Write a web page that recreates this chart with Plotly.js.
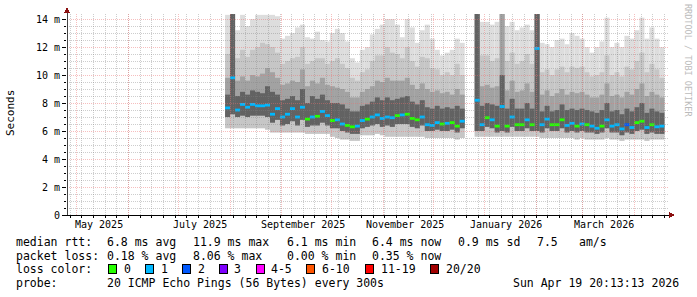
<!DOCTYPE html>
<html><head><meta charset="utf-8">
<script src="https://cdn.plot.ly/plotly-3.0.1.min.js"></script>
<style>html,body{margin:0;padding:0;background:#fff;}#chart{width:697px;height:297px;}
.shapelayer path{shape-rendering:crispEdges !important;}</style>
</head><body><div id="chart"></div>
<script>
// ---------- data (3-day bins starting 2025-07-29) ----------
const binStart = '2025-07-29';
const binDays = 3;
const medianRtt = [7.65,9.8,7.5,7.9,7.7,7.9,7.8,7.8,7.85,7.2,
 7.6,7.0,7.2,7.6,7.0,7.7,6.85,7.0,7.05,7.4,
 7.1,6.75,6.8,6.5,6.4,6.3,6.35,6.75,6.85,7.0,
 7.15,6.9,7.0,6.95,7.1,7.15,7.2,6.9,6.8,7.0,
 6.45,6.4,6.6,6.5,6.55,6.6,6.35,6.7,null,null,
 8.2,6.45,6.95,6.8,6.35,7.75,6.35,7.0,6.45,6.45,
 6.8,6.45,11.9,6.45,6.85,6.45,6.45,6.8,6.4,6.55,
 6.35,6.5,6.45,6.35,6.2,6.35,6.8,6.35,6.45,6.15,
 6.45,6.25,6.6,6.7,6.25,6.45,6.3,6.35];
const lossCount = [1,1,1,1,1,1,1,1,1,1,
 1,1,1,1,1,1,0,1,0,1,
 1,0,1,1,0,0,1,1,0,1,
 1,1,1,1,0,1,0,0,0,1,
 1,1,1,0,1,0,0,1,null,null,
 1,1,0,1,0,1,0,1,0,0,
 1,0,1,1,1,0,0,0,1,1,
 0,1,0,1,1,0,1,1,1,1,
 2,1,0,0,1,0,1,1];
const smokeMin = [6.2,6.2,6.2,6.2,6.2,6.2,6.2,6.2,6.1,5.9,
 5.9,5.9,5.9,5.9,5.9,5.9,5.8,5.8,5.8,5.8,
 5.8,5.6,5.5,5.4,5.4,5.3,5.3,5.7,5.7,5.7,
 5.8,5.7,5.6,5.6,5.6,5.6,5.6,5.6,5.6,5.6,
 5.5,5.5,5.5,5.5,5.5,5.5,5.4,5.5,null,null,
 5.6,5.6,5.6,5.6,5.6,5.6,5.6,5.6,5.6,5.6,
 5.6,5.6,5.6,5.5,5.5,5.5,5.5,5.5,5.5,5.5,
 5.4,5.5,5.4,5.4,5.4,5.4,5.5,5.4,5.4,5.3,
 5.4,5.4,5.4,5.4,5.3,5.4,5.4,5.4];
const smokeLowMid = [7.0,7.2,7.0,7.1,7.0,7.1,7.1,7.1,7.0,6.6,
 6.8,6.4,6.5,6.7,6.4,6.8,6.3,6.4,6.4,6.6,
 6.4,6.2,6.2,6.0,5.9,5.8,5.8,6.2,6.3,6.4,
 6.5,6.3,6.4,6.3,6.5,6.5,6.5,6.3,6.2,6.4,
 6.0,6.0,6.1,6.0,6.0,6.1,5.9,6.2,null,null,
 6.0,6.0,6.3,6.2,5.9,6.0,5.9,6.3,6.0,6.0,
 6.2,6.0,6.0,5.9,6.2,6.0,6.0,6.2,5.9,6.0,
 5.9,6.0,5.9,5.9,5.8,5.9,6.2,5.9,5.9,5.7,
 5.9,5.8,6.0,6.1,5.8,5.9,5.8,5.8];
const smokeH1 = [8.6,14.4,8.5,8.8,8.6,8.9,8.8,8.7,9.2,8.8,
 8.6,8.2,8.3,8.5,8.2,9.0,8.0,8.5,8.3,8.6,
 8.2,8.0,8.0,7.9,7.6,7.4,7.4,7.8,7.9,8.1,
 8.4,8.2,8.4,8.2,8.3,8.4,8.5,8.1,7.9,8.2,
 7.7,7.6,7.8,7.6,7.7,7.6,7.8,7.6,null,null,
 14.4,7.8,8.0,7.9,7.8,10.0,7.6,8.3,7.6,7.6,
 8.0,7.6,14.4,7.4,7.8,7.4,7.5,7.9,7.5,7.6,
 7.5,7.6,7.5,7.4,7.3,7.5,8.0,7.4,7.5,7.2,
 7.6,7.4,7.7,8.0,7.3,7.6,7.4,7.3];
const smokeH2 = [9.8,14.4,9.6,9.9,9.6,10.0,9.9,10.1,10.5,10.2,
 9.8,9.3,9.4,9.6,9.5,10.4,9.2,9.6,9.4,9.8,
 9.3,9.2,9.1,9.0,8.8,8.4,8.4,8.8,9.0,9.2,
 9.6,9.5,9.8,9.6,9.6,9.6,9.8,9.3,9.0,9.4,
 9.0,8.8,8.9,8.7,8.8,8.6,9.0,8.6,null,null,
 14.4,9.2,9.3,9.1,9.2,14.4,8.9,9.6,8.8,8.9,
 9.4,8.8,14.4,8.6,8.9,8.5,8.7,9.0,8.6,8.8,
 8.7,8.8,8.6,8.4,8.4,8.6,9.4,8.5,8.6,8.4,
 8.8,8.6,9.0,9.4,8.5,8.8,8.6,8.4];
const smokeH3 = [11.5,14.4,11.2,11.8,11.3,11.8,12.0,12.3,12.2,12.0,
 11.6,10.8,11.0,11.2,11.3,12.0,10.8,11.0,11.2,11.2,
 10.8,11.0,11.2,10.8,10.5,9.8,9.6,10.2,10.4,11.0,
 11.4,11.4,12.0,11.6,11.5,11.2,12.0,11.0,10.6,11.3,
 11.2,10.5,10.4,10.0,10.2,10.0,10.8,10.0,null,null,
 14.4,11.4,11.4,11.0,11.2,14.4,11.0,11.6,10.8,11.0,
 11.5,10.8,14.4,10.2,10.4,10.0,10.4,10.6,10.2,10.6,
 10.5,10.6,10.2,9.9,10.0,10.2,11.4,10.0,10.2,9.9,
 10.6,10.4,11.0,11.6,10.2,10.8,10.4,9.8];
const smokeMax = [14.3,14.4,13.2,14.3,13.5,14.0,14.3,14.3,14.3,14.3,
 14.2,12.6,12.8,13.0,13.4,13.6,12.7,12.6,13.1,12.5,
 12.4,13.0,13.3,13.0,12.4,11.2,10.9,11.8,12.0,12.9,
 13.3,13.6,14.0,14.0,13.6,12.7,14.0,13.4,12.3,13.2,
 13.6,12.6,11.8,11.4,11.6,11.8,12.6,12.3,null,null,
 14.4,13.8,13.8,13.6,13.8,14.4,13.5,13.8,13.2,13.4,
 13.6,13.2,14.4,12.3,12.2,12.0,12.5,12.6,12.2,13.0,
 12.8,12.6,12.0,11.6,12.0,12.4,14.1,12.0,12.3,12.0,
 12.8,12.6,13.2,14.1,12.6,13.4,12.6,12.0];

const lossLabels = ['0','1','2','3','4-5','6-10','11-19','20/20'];
const lossColors = ['#26ff00','#00b8ff','#0059ff','#7e00ff','#ff00ff','#ff5500','#ff0000','#a10000'];
const xTickDates = ['2025-05-14','2025-07-14','2025-09-14','2025-11-14','2026-01-14','2026-03-14'];
const xTickLabels = ['May 2025','July 2025','September 2025','November 2025','January 2026','March 2026'];
const yTickVals = [0,2,4,6,8,10,12,14];
const yTickText = ['0','2 m','4 m','6 m','8 m','10 m','12 m','14 m'];
const rttStats = ['median rtt:','6.8 ms avg','11.9 ms max','6.1 ms min','6.4 ms now','0.9 ms sd','7.5','am/s'];
const lossStats = ['packet loss:','0.18 % avg','8.06 % max','0.00 % min','0.35 % now'];
const probeText = ['probe:','20 ICMP Echo Pings (56 Bytes) every 300s','Sun Apr 19 20:13:13 2026'];

// ---------- helpers ----------
const DAY = 86400000;
const toStr = ms => new Date(ms).toISOString().slice(0,19).replace('T',' ');
const t0 = Date.parse(binStart + 'T00:00:00Z');
const centers = medianRtt.map((_, i) => toStr(t0 + (i*binDays + binDays/2)*DAY));
const binMs = binDays*DAY;
function band(lower, upper, color){
  return {type:'bar', x:centers, base:lower,
    y: upper.map((u,i)=> (u==null||lower[i]==null)?null:u-lower[i]),
    width:binMs, marker:{color:color, line:{width:0}}, hoverinfo:'skip', showlegend:false};
}
function lossIdx(n){ if(n==null) return 0; if(n<=3) return n; if(n<=5) return 4; if(n<=10) return 5; if(n<20) return 6; return 7; }

const traces = [
  band(smokeMin, smokeMax, '#dddddd'),
  band(smokeMin, smokeH3, '#c6c6c6'),
  band(smokeLowMid, smokeH2, '#a2a2a2'),
  band(smokeLowMid, smokeH1, '#626262'),
  {type:'bar', x:centers, base:medianRtt.map(v=>v==null?null:v-0.1), y:medianRtt.map(v=>v==null?null:0.2),
   width:binMs, marker:{color:lossCount.map(n=>lossColors[lossIdx(n)]), line:{width:0}}, hoverinfo:'skip', showlegend:false}
];

// pixel -> paper
const PL=67, PR=669, PT=14, PB=215;
const px = x => (x-PL)/(PR-PL);
const py = y => (PB-y)/(PB-PT);

const xRange = ['2025-04-25 00:00:00','2026-04-21 18:30:00'];
const shapes = [];
const redGrid = 'rgba(235,110,110,0.45)', grayGrid = 'rgba(130,130,130,0.4)';
// weekly grid
for(let t=Date.parse('2025-04-27T00:00:00Z'); t<Date.parse('2026-04-21T18:00:00Z'); t+=7*DAY){
  shapes.push({type:'line', xref:'x', yref:'paper', x0:toStr(t), x1:toStr(t), y0:0, y1:1, line:{color:grayGrid, width:1, dash:'1px,1px'}});
}
// monthly grid
for(let m=4; m<16; m++){
  const d = new Date(Date.UTC(2025, m, 1)).getTime();
  shapes.push({type:'line', xref:'x', yref:'paper', x0:toStr(d), x1:toStr(d), y0:0, y1:1, line:{color:redGrid, width:1, dash:'1px,1px'}});
}
// horizontal grid
for(let k=1; k<=28; k++){
  const v = k*0.5;
  shapes.push({type:'line', xref:'paper', yref:'y', x0:0, x1:1, y0:v, y1:v, line:{color:(k%4===0)?redGrid:grayGrid, width:1, dash:'1px,1px'}});
}
// axis extensions and arrows
shapes.push({type:'line', xref:'paper', yref:'paper', x0:px(62), x1:px(669), y0:0, y1:0, line:{color:'#000', width:1}});
shapes.push({type:'line', xref:'paper', yref:'paper', x0:0, x1:0, y0:0, y1:py(9), line:{color:'#444', width:1}});
shapes.push({type:'path', xref:'paper', yref:'paper', path:`M ${px(64)} ${py(13)} L ${px(70)} ${py(13)} L ${px(67)} ${py(7)} Z`, fillcolor:'#8b1010', line:{width:0}});
shapes.push({type:'path', xref:'paper', yref:'paper', path:`M ${px(669)} ${py(212)} L ${px(669)} ${py(218)} L ${px(675)} ${py(215)} Z`, fillcolor:'#8b1010', line:{width:0}});

// legend swatches
const swatchX = [108.5,145.5,182.5,219,256,306.5,365.5,430.5];
swatchX.forEach((x,i)=>{
  shapes.push({type:'rect', xref:'paper', yref:'paper', x0:px(x), x1:px(x+8), y0:py(273), y1:py(264.5), fillcolor:lossColors[i], line:{color:'#000', width:1}});
});

const F = {family:'DejaVu Sans Mono', size:11.5, color:'#000'};
const FT = {family:'DejaVu Sans Mono', size:10, color:'#000'};
const ann = [];
function txt(x, y, s, opts){ ann.push(Object.assign({xref:'paper', yref:'paper', x:px(x), y:py(y), text:s, showarrow:false, xanchor:'left', yanchor:'middle', font:F, borderpad:0}, opts||{})); }
const rttX = [16,107.3,193.3,286.7,372.3,458.3,537.3,579.3];
rttStats.forEach((s,i)=>txt(rttX[i]-1, 241.5, s));
const lossX = [16,107.3,193.3,286.7,372.3];
lossStats.forEach((s,i)=>txt(lossX[i]-1, 255.5, s));
txt(15, 269, 'loss color:');
lossLabels.forEach((s,i)=>txt(swatchX[i]+14, 269, s));
const probeX = [16,107.3,513.3];
probeText.forEach((s,i)=>txt(probeX[i]-1, 283, s));
// x tick labels at mid-month
xTickDates.forEach((d,i)=>ann.push({xref:'x', yref:'paper', x:d, y:py(224.7), text:xTickLabels[i], showarrow:false, xanchor:'center', yanchor:'middle', font:FT, borderpad:0}));
// y title
ann.push({xref:'paper', yref:'paper', x:px(10), y:py(113), text:'Seconds', textangle:-90, showarrow:false, xanchor:'center', yanchor:'middle', font:{family:'DejaVu Sans Mono', size:11, color:'#000'}, borderpad:0});
// watermark
ann.push({xref:'paper', yref:'paper', x:px(688), y:py(60), text:'RRDTOOL / TOBI OETIKER', textangle:90, showarrow:false, xanchor:'center', yanchor:'middle', font:{family:'DejaVu Sans Mono', size:8.5, color:'#bbbbbb'}, borderpad:0});

const layout = {
  width:697, height:297, margin:{l:PL, r:697-PR, t:PT, b:297-PB, pad:0},
  paper_bgcolor:'#fff', plot_bgcolor:'#fff', barmode:'overlay', showlegend:false, font:F,
  xaxis:{type:'date', range:xRange, showgrid:false, zeroline:false, showline:false, showticklabels:false,
    ticks:'', tickmode:'array', tickvals:[],
    minor:{tickmode:'linear', tick0:'2025-05-04', dtick:7*DAY, ticks:'outside', ticklen:2, tickcolor:'#000', showgrid:false}},
  yaxis:{range:[0,14.36], tickmode:'array', tickvals:yTickVals, ticktext:yTickText, ticks:'outside', ticklen:4, tickcolor:'#000',
    showline:false, showgrid:false, zeroline:false, tickfont:FT,
    minor:{tickmode:'linear', tick0:0, dtick:0.5, ticks:'outside', ticklen:2, tickcolor:'#000', showgrid:false}},
  shapes:shapes, annotations:ann
};
Plotly.newPlot('chart', traces, layout, {staticPlot:true, displayModeBar:false});
</script></body></html>
